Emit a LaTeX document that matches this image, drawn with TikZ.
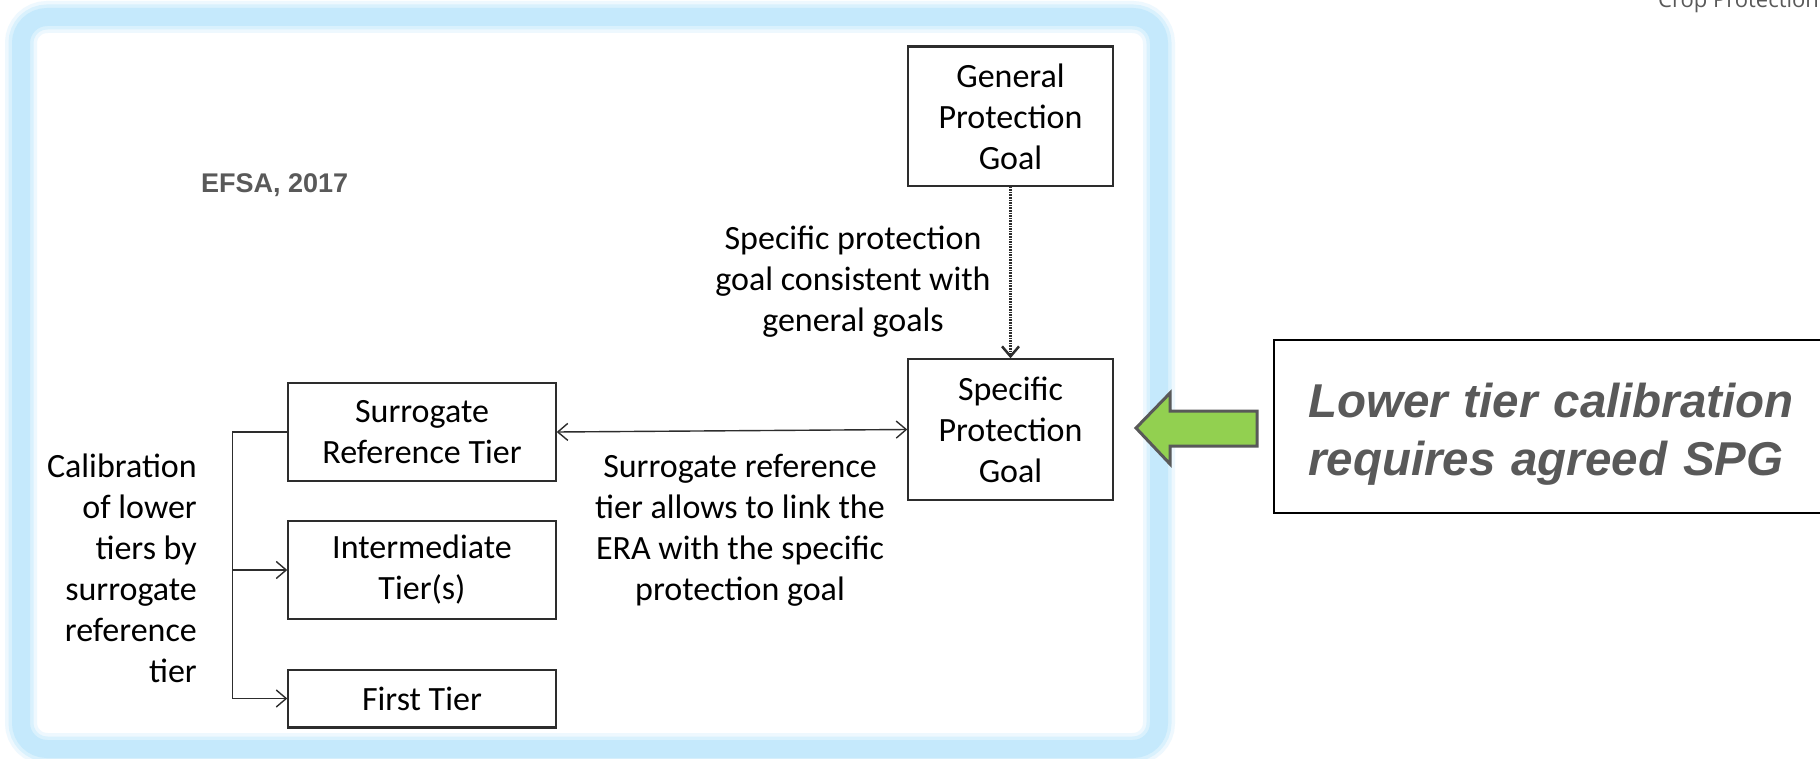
\documentclass[tikz,border=0pt]{standalone}
\usepackage{fontspec}
\setmainfont{Carlito}
\newfontfamily\arialf{Liberation Sans}
\newfontfamily\opensansf{Open Sans}
\usetikzlibrary{arrows.meta,calc}
\definecolor{framebl}{RGB}{197,233,252}
\definecolor{txtgray}{RGB}{89,89,89}
\definecolor{arrowgreen}{RGB}{146,208,80}
\definecolor{linec}{RGB}{45,45,45}
\newcommand{\mainfnt}{\fontsize{34}{41}\selectfont}
\begin{document}
\begin{tikzpicture}[x=1pt,y=-1pt,
  tierbox/.style={draw=linec, line width=1.4pt, align=center, inner sep=0pt, font=\mainfnt},
  lbl/.style={align=center, inner sep=0pt, font=\mainfnt},
  conn/.style={draw=linec, line width=1.4pt},
  barbend/.style={-{Straight Barb[length=10pt,width=17pt]}},
  barbboth/.style={{Straight Barb[length=10pt,width=17pt]}-{Straight Barb[length=10pt,width=17pt]}},
  framepath/.style={rounded corners=26pt}
]
\useasboundingbox (0,0) rectangle (1820,759);
\begin{scope}
\clip (0,0) rectangle (1820,759);
\fill[white] (0,0) rectangle (1820,759);
% light blue frame
\draw[framebl!30, line width=32pt, framepath] (21,17) rectangle (1159,749);
\draw[framebl!65, line width=25pt, framepath] (21,17) rectangle (1159,749);
\draw[framebl, line width=18pt, framepath] (21,17) rectangle (1159,749);

% header text (cut off at top)
\node[anchor=base west, text=txtgray, font=\opensansf\fontsize{22}{26}\selectfont, inner sep=0pt] (crop) at (1658,8) {Crop Protection};

\node[anchor=base west, text=txtgray, font=\arialf\bfseries\fontsize{27}{32}\selectfont, inner sep=0pt] (efsa) at (201,193) {EFSA, 2017};

% boxes
\node[tierbox, minimum width=205pt, minimum height=139pt] (gpg) at (1010.5,116.5) {General\\Protection\\Goal};
\node[tierbox, minimum width=205pt, minimum height=141pt] (spg) at (1010.5,429.5) {Specific\\Protection\\Goal};
\node[tierbox, minimum width=268pt, minimum height=98pt] (srt) at (422,432) {Surrogate\\Reference Tier};
\node[tierbox, minimum width=268pt, minimum height=98pt] (it) at (422,570) {Intermediate\\Tier(s)};
\node[tierbox, minimum width=268pt, minimum height=57pt] (ft) at (422,698.5) {First Tier};
\draw[linec, line width=2.6pt] (gpg.north west) -- (gpg.north east);
\draw[linec, line width=3pt] (ft.south west) -- (ft.south east);

% labels
\node[lbl] (spgtxt) at (853,282) {Specific protection\\goal consistent with\\general goals};
\node[lbl] (srttxt) at (740,530) {Surrogate reference\\tier allows to link the\\ERA with the specific\\protection goal};
\node[lbl, align=right, anchor=east] (caltxt) at (197,568) {Calibration\\of lower\\tiers by\\surrogate\\reference\\tier};

% connectors
\draw[conn, barbboth] (srt.east) -- (spg.west);
\draw[conn, barbend, line width=2.5pt, dash pattern=on 1.6pt off 1pt] (gpg.south) -- (spg.north);
\coordinate (spine) at ([xshift=-55pt]srt.west);
\draw[conn, barbend] (srt.west) -- (spine) |- (ft.west);
\draw[conn, barbend] (spine) |- (it.west);

% green arrow
\draw[draw=txtgray, fill=arrowgreen, line width=3pt, line join=miter]
  (1136,428) -- (1170,393) -- (1170,411) -- (1257,411) -- (1257,446) -- (1170,446) -- (1170,464) -- cycle;

% note box
\node[draw=black, line width=1.5pt, anchor=west, minimum height=173pt, minimum width=570pt, inner sep=0pt] (note) at (1273,426.5) {};
\node[anchor=west, text width=520pt, inner sep=0pt, align=left, text=txtgray, font=\arialf\bfseries\itshape\fontsize{47.5}{58}\selectfont] (notetxt) at (1308,434) {Lower tier calibration\\requires agreed SPG};
\end{scope}
\end{tikzpicture}
\end{document}
